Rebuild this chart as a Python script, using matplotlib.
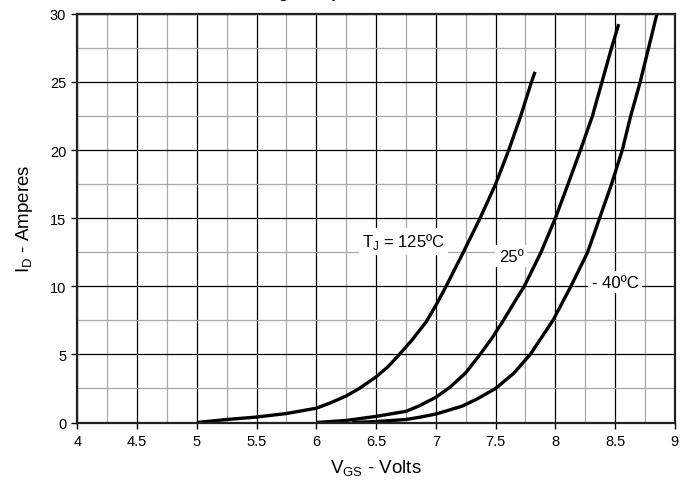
import matplotlib
matplotlib.use("Agg")
import matplotlib.pyplot as plt
from matplotlib.ticker import MultipleLocator

plt.rcParams['font.family'] = ['Liberation Sans', 'DejaVu Sans']

# (VGS in volts, ID in amperes)
vgs_125 = [5.0, 5.25, 5.5, 5.75, 6.0, 6.12, 6.25, 6.36, 6.5, 6.6, 6.69, 6.8, 6.92, 7.0,
           7.08, 7.23, 7.37, 7.5, 7.61, 7.71, 7.80, 7.83]
id_125 = [0.0, 0.22, 0.4, 0.66, 1.05, 1.45, 1.95, 2.5, 3.35, 4.1, 4.95, 6.05, 7.4, 8.6,
          9.9, 12.5, 15.0, 17.5, 20.0, 22.5, 25.0, 25.75]

vgs_25 = [6.0, 6.25, 6.5, 6.75, 6.86, 7.0, 7.12, 7.25, 7.37, 7.47, 7.565, 7.655, 7.74,
          7.88, 8.0, 8.106, 8.21, 8.31, 8.39, 8.47, 8.53]
id_25 = [0.0, 0.15, 0.45, 0.82, 1.22, 1.85, 2.6, 3.65, 5.0, 6.2, 7.5, 8.8, 10.0,
         12.5, 15.0, 17.5, 20.0, 22.5, 25.0, 27.5, 29.25]

vgs_m40 = [6.3, 6.5, 6.75, 6.86, 7.0, 7.05, 7.22, 7.35, 7.5, 7.65, 7.79, 7.98, 8.13,
           8.27, 8.37, 8.47, 8.56, 8.63, 8.71, 8.78, 8.85]
id_m40 = [0.0, 0.07, 0.22, 0.38, 0.62, 0.75, 1.2, 1.75, 2.5, 3.6, 5.0, 7.5, 10.0,
          12.5, 15.0, 17.5, 20.0, 22.5, 25.0, 27.5, 30.0]

xticks = [4, 4.5, 5, 5.5, 6, 6.5, 7, 7.5, 8, 8.5, 9]
xticklabels = ['4', '4.5', '5', '5.5', '6', '6.5', '7', '7.5', '8', '8.5', '9']
yticks = [0, 5, 10, 15, 20, 25, 30]

fig = plt.figure(figsize=(6.81, 4.85), dpi=100)
ax = fig.add_axes([0.1135, 0.1268, 0.8775, 0.8425])

for xs, ys in [(vgs_125, id_125), (vgs_25, id_25), (vgs_m40, id_m40)]:
    ax.plot(xs, ys, color='black', lw=2.4, solid_capstyle='butt', solid_joinstyle='round')

ax.set_xlim(4, 9)
ax.set_ylim(0, 30)
ax.set_xticks(xticks)
ax.set_xticklabels(xticklabels)
ax.set_yticks(yticks)
ax.xaxis.set_minor_locator(MultipleLocator(0.25))
ax.yaxis.set_minor_locator(MultipleLocator(2.5))

ax.grid(which='minor', color='#a8a8a8', lw=0.9)
ax.grid(which='major', color='black', lw=0.9)
ax.set_axisbelow(True)
ax.tick_params(which='major', direction='out', length=4, width=1, labelsize=10.5, pad=4)
ax.tick_params(which='minor', length=0)
for s in ax.spines.values():
    s.set_linewidth(1.6)
    s.set_color('#222222')

ax.set_xlabel(r'V$_\mathregular{GS}$ - Volts', fontsize=13.5, labelpad=7)
ax.set_ylabel(r'I$_\mathregular{D}$ - Amperes', fontsize=13.5, labelpad=11)

box = dict(facecolor='white', edgecolor='none', pad=2.5)
ax.text(6.73, 13.3, r'T$_\mathregular{J}$ = 125ºC', fontsize=12, ha='center', va='center', bbox=box)
ax.text(7.63, 12.2, '25º', fontsize=12, ha='center', va='center', bbox=box)
ax.text(8.50, 10.3, '- 40ºC', fontsize=12, ha='center', va='center', bbox=box)

# title sits mostly above the crop, only descenders show
fig.text(0.525, 1.004, 'Fig. 3. Input Admittance', fontsize=12, fontweight='bold',
         ha='center', va='baseline')

fig.savefig('out.png', dpi=100)
